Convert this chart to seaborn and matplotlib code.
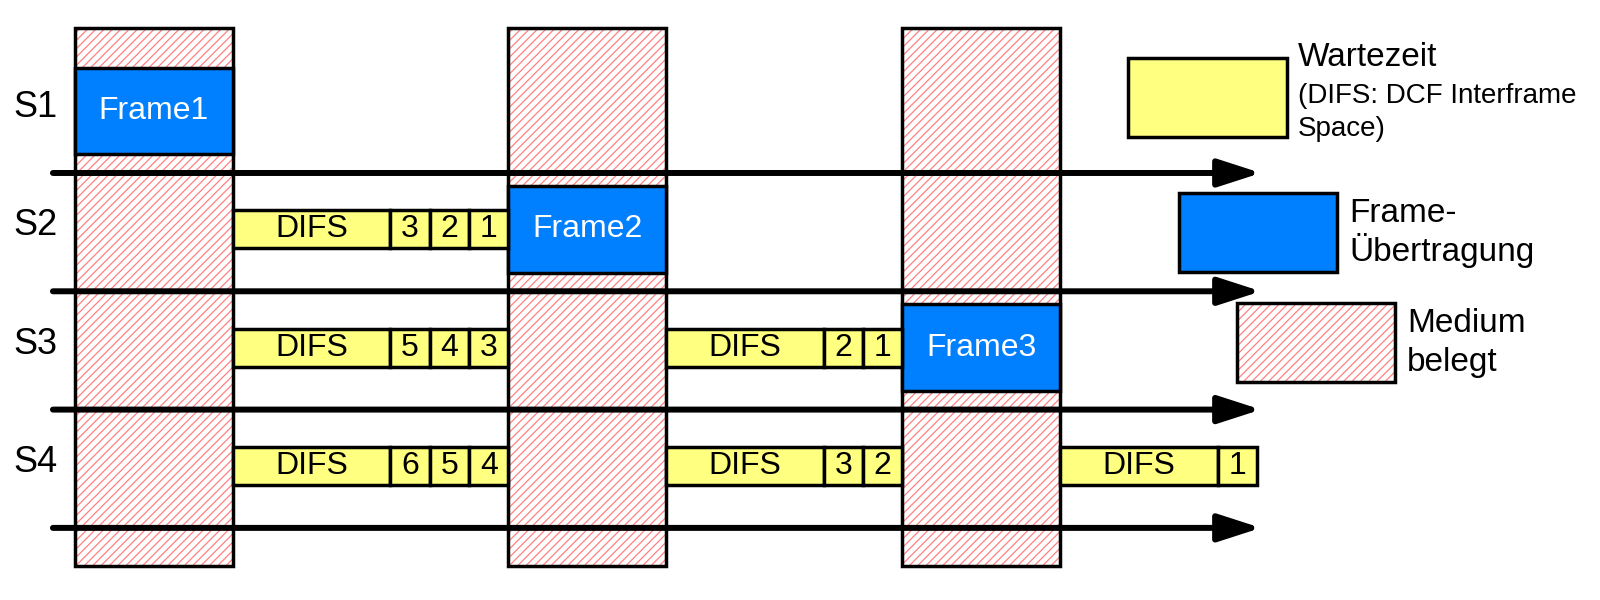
import matplotlib
matplotlib.use("Agg")
import matplotlib.pyplot as plt
import seaborn as sns
from matplotlib.patches import Rectangle

sns.set_style("white")
plt.rcParams['font.family'] = ['Liberation Sans', 'DejaVu Sans']
plt.rcParams['text.color'] = 'black'
plt.rcParams['hatch.linewidth'] = 0.9

# data (time in backoff slots, one DIFS = 4 slots, one frame = 4 slots)
stations = ['S1', 'S2', 'S3', 'S4']
busy_start = [0, 11, 21]
frame_station = [0, 1, 2]
frame_start = [0, 11, 21]
frame_labels = ['Frame1', 'Frame2', 'Frame3']
wait_station = [1, 2, 2, 3, 3, 3]
wait_start = [4, 4, 15, 4, 15, 25]
wait_counts = [[3, 2, 1], [5, 4, 3], [2, 1], [6, 5, 4], [3, 2], [1]]
frame_len = 4
difs_len = 4
axis_end = 30.1

YELLOW = '#FFFF80'
BLUE = '#0080FF'
HATCH = '#FF8080'
FS = 23

fig = plt.figure(figsize=(16, 6), dpi=100)
ax = fig.add_axes([0, 0, 1, 1])
ax.set_xlim(-75 / 39.4, (1600 - 75) / 39.4)
ax.set_ylim((600 - 111) / 118.3, -111 / 118.3)
ax.axis('off')

col_top, col_bot = -0.70, 3.846
frame_h = 0.735
wait_h = 0.321
arrow_off = 0.524


def busy(a, x, y, w, h, z=1):
    a.add_patch(Rectangle((x, y), w, h, facecolor='white', edgecolor=HATCH,
                          hatch='////', lw=0, zorder=z))
    a.add_patch(Rectangle((x, y), w, h, fill=False, edgecolor='black',
                          lw=2.5, zorder=z + 0.5))


# medium busy columns
for s in busy_start:
    busy(ax, s, col_top, frame_len, col_bot - col_top)

# time axes
for i, name in enumerate(stations):
    y = i + arrow_off
    ax.annotate('', xy=(axis_end, y), xytext=(-0.56, y),
                arrowprops=dict(arrowstyle='-|>,head_length=1.3,head_width=0.42',
                                lw=4.3, color='black', shrinkA=0, shrinkB=0,
                                mutation_scale=20), zorder=3)
    ax.text(-1.0, i - 0.03, name, fontsize=26, ha='center', va='center')

# frames
for st, x0, lab in zip(frame_station, frame_start, frame_labels):
    ax.add_patch(Rectangle((x0, st - frame_h / 2), frame_len, frame_h,
                           facecolor=BLUE, edgecolor='black', lw=2.5, zorder=4))
    ax.text(x0 + frame_len / 2, st, lab, color='white', fontsize=FS,
            ha='center', va='center', zorder=5)

# waiting times (DIFS + backoff counter)
for st, x0, counts in zip(wait_station, wait_start, wait_counts):
    y0 = st - wait_h / 2
    ax.add_patch(Rectangle((x0, y0), difs_len, wait_h, facecolor=YELLOW,
                           edgecolor='black', lw=2.5, zorder=4))
    ax.text(x0 + difs_len / 2, st, 'DIFS', fontsize=FS, ha='center',
            va='center', zorder=5)
    for k, c in enumerate(counts):
        xs = x0 + difs_len + k
        ax.add_patch(Rectangle((xs, y0), 1, wait_h, facecolor=YELLOW,
                               edgecolor='black', lw=2.5, zorder=4))
        ax.text(xs + 0.5, st, str(c), fontsize=FS, ha='center',
                va='center', zorder=5)

# legend (pixel coordinates)
lg = fig.add_axes([0, 0, 1, 1], facecolor='none')
lg.set_xlim(0, 1600)
lg.set_ylim(600, 0)
lg.axis('off')

lg.add_patch(Rectangle((1128, 58), 159, 79, facecolor=YELLOW,
                       edgecolor='black', lw=2.5))
lg.text(1298, 58, 'Wartezeit', fontsize=24, va='center')
lg.text(1298, 96, '(DIFS: DCF Interframe', fontsize=20, va='center')
lg.text(1298, 129, 'Space)', fontsize=20, va='center')

lg.add_patch(Rectangle((1179, 193), 158, 79, facecolor=BLUE,
                       edgecolor='black', lw=2.5))
lg.text(1349, 213, 'Frame-', fontsize=24, va='center')
lg.text(1349, 251, 'Übertragung', fontsize=24, va='center')

busy(lg, 1237, 303, 158, 79)
lg.text(1407, 323, 'Medium', fontsize=24, va='center')
lg.text(1407, 362, 'belegt', fontsize=24, va='center')

fig.savefig('out.png', dpi=100, facecolor='white')
